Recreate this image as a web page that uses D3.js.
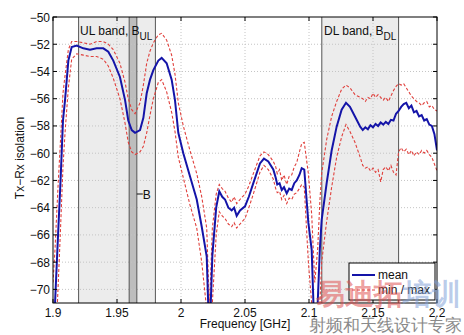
<!DOCTYPE html>
<html><head><meta charset="utf-8">
<script src="https://cdn.jsdelivr.net/npm/d3@7"></script>
<style>
body{margin:0;background:#fff;}
text{font-family:"Liberation Sans",Arial,Helvetica,sans-serif;}
</style></head>
<body><svg id="c" width="464" height="335"></svg>
<script>
// ---- data ----
const xTicks = [1.9, 1.95, 2, 2.05, 2.1, 2.15, 2.2];
const yTicks = [-70, -68, -66, -64, -62, -60, -58, -56, -54, -52, -50];
const ulBand = [1.92, 1.98];
const bStrip = [1.9595, 1.9655];
const dlBand = [2.11, 2.17];

const freq = [1.9000,1.9016,1.9039,1.9059,1.9078,1.9094,1.9120,1.9146,1.9185,1.9237,1.9289,1.9341,1.9393,1.9432,1.9471,1.9523,1.9563,1.9588,1.9615,1.9641,1.9680,1.9706,1.9732,1.9758,1.9784,1.9823,1.9849,1.9888,1.9927,1.9953,1.9979,2.0018,2.0070,2.0123,2.0162,2.0201,2.0222,2.0245,2.0275,2.0299,2.0322,2.0344,2.0370,2.0396,2.0415,2.0435,2.0461,2.0500,2.0530,2.0565,2.0617,2.0648,2.0682,2.0721,2.0740,2.0752,2.0770,2.0787,2.0805,2.0826,2.0845,2.0865,2.0885,2.0904,2.0925,2.0943,2.0963,2.0995,2.1021,2.1045,2.1068,2.1085,2.1099,2.1138,2.1177,2.1216,2.1255,2.1289,2.1320,2.1359,
2.140,2.142,2.144,2.146,2.148,2.150,2.152,2.154,2.156,2.158,2.160,2.162,2.164,2.166,2.168,2.170,2.172,2.174,2.176,2.178,2.180,2.182,2.184,2.186,2.188,2.190,2.192,2.194,2.196,2.198,2.200];

const meanIso = [-74.4,-71.0,-66.1,-62.0,-57.6,-56.1,-53.2,-52.2,-52.1,-52.3,-52.4,-52.3,-52.3,-52.55,-53.2,-54.4,-56.1,-57.6,-58.3,-58.5,-58.3,-57.4,-55.6,-54.6,-53.9,-53.2,-53.0,-53.4,-54.6,-56.1,-58.5,-60.0,-61.7,-63.4,-65.4,-67.6,-74.0,-67.5,-64.0,-62.8,-63.2,-63.4,-64.0,-64.2,-64.0,-64.6,-64.2,-63.9,-63.2,-62.2,-60.75,-60.4,-60.6,-61.2,-61.8,-62.3,-62.2,-62.7,-62.5,-62.95,-62.6,-62.7,-62.2,-62.0,-61.6,-61.1,-61.2,-65.1,-67.1,-74.0,-71.0,-67.0,-64.9,-62.2,-59.8,-58.05,-56.8,-56.3,-56.6,-57.3,
-58.05,-58.3,-58.1,-58.25,-57.95,-58.1,-57.85,-58.0,-57.75,-57.9,-57.7,-57.85,-57.55,-57.6,-57.1,-56.9,-56.6,-56.4,-56.3,-56.7,-56.5,-57.0,-56.9,-57.3,-57.2,-57.6,-57.5,-57.9,-58.0,-58.6,-59.8];

const maxIso = [-69.5,-67.0,-62.5,-59.0,-55.6,-54.3,-52.4,-51.8,-51.8,-51.9,-52.0,-51.8,-51.8,-52.0,-52.4,-53.4,-54.8,-56.0,-56.8,-57.1,-56.3,-55.0,-53.4,-52.5,-51.9,-51.3,-51.2,-51.7,-52.8,-54.2,-56.3,-58.0,-59.8,-61.5,-63.2,-65.5,-71.5,-65.5,-63.0,-62.3,-62.6,-62.8,-63.3,-63.6,-63.2,-63.7,-63.4,-63.0,-62.4,-61.5,-60.2,-59.9,-60.1,-60.6,-61.0,-61.5,-61.2,-62.0,-61.6,-62.3,-61.7,-61.6,-61.0,-60.7,-59.9,-59.3,-59.2,-61.5,-64.5,-69.5,-67.0,-63.5,-61.5,-59.0,-57.3,-56.2,-55.3,-55.0,-55.2,-55.7,
-55.9,-56.0,-56.2,-55.9,-56.0,-55.6,-55.9,-55.7,-55.9,-56.1,-55.9,-56.2,-55.8,-55.4,-55.1,-54.9,-55.0,-54.9,-55.2,-55.5,-55.8,-56.0,-56.2,-56.3,-56.5,-56.3,-56.2,-56.6,-56.5,-56.8,-56.9];

const minIso = [-79.0,-75.0,-70.0,-65.5,-61.0,-58.5,-55.2,-53.1,-52.7,-52.8,-52.9,-52.9,-53.1,-53.6,-54.5,-56.0,-57.8,-59.2,-59.9,-60.1,-59.9,-59.5,-58.5,-57.2,-56.0,-54.8,-54.6,-55.5,-57.0,-58.4,-60.3,-61.8,-63.8,-65.5,-68.0,-71.5,-77.0,-71.0,-66.0,-64.3,-64.6,-64.8,-65.2,-65.4,-65.1,-65.5,-65.2,-64.8,-64.0,-63.0,-61.4,-60.9,-61.2,-61.9,-62.6,-62.9,-62.8,-63.4,-63.1,-63.7,-63.3,-63.4,-63.0,-62.9,-62.6,-62.3,-62.5,-68.0,-71.0,-77.0,-75.0,-71.0,-68.0,-65.0,-62.5,-60.3,-58.8,-57.9,-58.4,-59.2,
-60.3,-60.9,-61.1,-61.0,-61.3,-61.1,-61.4,-61.2,-62.1,-61.2,-61.0,-61.3,-60.9,-61.4,-61.6,-59.9,-59.6,-59.9,-59.7,-60.1,-59.8,-60.2,-59.9,-60.1,-59.8,-60.0,-59.8,-60.1,-60.3,-60.8,-61.3];

// ---- layout ----
const svg = d3.select("#c");
const L = 53, R = 437, T = 17, B = 303;
const x = d3.scaleLinear().domain([1.9, 2.2]).range([L, R]);
const y = d3.scaleLinear().domain([-71, -50]).range([B, T]);

svg.append("defs").append("clipPath").attr("id","clip")
  .append("rect").attr("x",L).attr("y",T).attr("width",R-L).attr("height",B-T);

// bands
const g = svg.append("g").attr("clip-path","url(#clip)");
[ulBand, dlBand].forEach(b => {
  g.append("rect").attr("x",x(b[0])).attr("y",T).attr("width",x(b[1])-x(b[0])).attr("height",B-T)
   .attr("fill","#ececec");
});
g.append("rect").attr("x",x(bStrip[0])).attr("y",T).attr("width",x(bStrip[1])-x(bStrip[0])).attr("height",B-T)
  .attr("fill","#bdbdbd");

// grid
xTicks.slice(1,-1).forEach(t => g.append("line").attr("x1",x(t)).attr("x2",x(t)).attr("y1",T).attr("y2",B)
  .attr("stroke","#c4c4c4").attr("stroke-width",1).attr("stroke-dasharray","1,2"));
yTicks.slice(0,-1).forEach(t => g.append("line").attr("x1",L).attr("x2",R).attr("y1",y(t)).attr("y2",y(t))
  .attr("stroke","#c4c4c4").attr("stroke-width",1).attr("stroke-dasharray","1,2"));

// band edges
[ulBand[0], ulBand[1], bStrip[0], bStrip[1], dlBand[0], dlBand[1]].forEach(v =>
  g.append("line").attr("x1",x(v)).attr("x2",x(v)).attr("y1",T).attr("y2",B)
   .attr("stroke","#555").attr("stroke-width",1));

// curves
const line = d3.line().x((d,i)=>x(freq[i])).y(d=>y(d));
g.append("path").datum(maxIso).attr("d",line).attr("fill","none")
  .attr("stroke","#e0403c").attr("stroke-width",1.1).attr("stroke-dasharray","3,2");
g.append("path").datum(minIso).attr("d",line).attr("fill","none")
  .attr("stroke","#e0403c").attr("stroke-width",1.1).attr("stroke-dasharray","3,2");
g.append("path").datum(meanIso).attr("d",line).attr("fill","none")
  .attr("stroke","#1414a8").attr("stroke-width",2);

// frame & ticks
svg.append("rect").attr("x",L).attr("y",T).attr("width",R-L).attr("height",B-T)
  .attr("fill","none").attr("stroke","#000").attr("stroke-width",1);
const tk = 4;
xTicks.forEach(t => {
  svg.append("line").attr("x1",x(t)).attr("x2",x(t)).attr("y1",B).attr("y2",B-tk).attr("stroke","#000");
  svg.append("line").attr("x1",x(t)).attr("x2",x(t)).attr("y1",T).attr("y2",T+tk).attr("stroke","#000");
  svg.append("text").attr("x",x(t)).attr("y",317).attr("text-anchor","middle")
    .attr("font-size",12).attr("fill","#111").text(d3.format("")(t));
});
yTicks.forEach(t => {
  svg.append("line").attr("x1",L).attr("x2",L+tk).attr("y1",y(t)).attr("y2",y(t)).attr("stroke","#000");
  svg.append("line").attr("x1",R).attr("x2",R-tk).attr("y1",y(t)).attr("y2",y(t)).attr("stroke","#000");
  svg.append("text").attr("x",50).attr("y",y(t)+4.5).attr("text-anchor","end")
    .attr("font-size",12).attr("fill","#111").text(d3.format("")(t));
});

// labels
svg.append("text").attr("x",245).attr("y",328).attr("text-anchor","middle")
  .attr("font-size",12).attr("fill","#111").text("Frequency [GHz]");
svg.append("text").attr("transform","translate(24,158) rotate(-90)").attr("text-anchor","middle")
  .attr("font-size",12).attr("fill","#111").text("Tx\u2212Rx isolation");

const ul = svg.append("text").attr("x",80).attr("y",35).attr("font-size",12).attr("fill","#111");
ul.append("tspan").text("UL band, B");
ul.append("tspan").attr("dy",5).attr("font-size",10).text("UL");
const dl = svg.append("text").attr("x",324).attr("y",35).attr("font-size",12).attr("fill","#111");
dl.append("tspan").text("DL band, B");
dl.append("tspan").attr("dy",5).attr("font-size",10).text("DL");

svg.append("line").attr("x1",x(bStrip[1])).attr("x2",x(bStrip[1])+6).attr("y1",194).attr("y2",194).attr("stroke","#111");
svg.append("text").attr("x",x(bStrip[1])+6).attr("y",198.5).attr("font-size",12).attr("fill","#111").text("B");

// legend
const lg = svg.append("g");
lg.append("rect").attr("x",349).attr("y",263).attr("width",86).attr("height",37)
  .attr("fill","#fff").attr("stroke","#000").attr("stroke-width",1);
lg.append("line").attr("x1",352).attr("x2",375).attr("y1",275).attr("y2",275).attr("stroke","#1414a8").attr("stroke-width",2);
lg.append("text").attr("x",378).attr("y",279).attr("font-size",12).attr("fill","#111").text("mean");
lg.append("line").attr("x1",352).attr("x2",375).attr("y1",290).attr("y2",290).attr("stroke","#e0403c")
  .attr("stroke-width",1.1).attr("stroke-dasharray","3,2");
lg.append("text").attr("x",378).attr("y",294).attr("font-size",12).attr("fill","#111").text("min / max");

// watermark
const wm = svg.append("text").attr("x",316).attr("y",304).attr("font-size",29)
  .attr("font-family","Noto Sans CJK SC").attr("font-weight","bold");
wm.append("tspan").attr("fill","#e05050").attr("fill-opacity",0.55).text("易迪拓");
wm.append("tspan").attr("fill","#7fa0d8").attr("fill-opacity",0.55).text("培训");
svg.append("text").attr("x",309).attr("y",331).attr("font-size",16.5)
  .attr("font-family","Noto Sans CJK SC").attr("fill","#8a8a8a").text("射频和天线设计专家");
</script></body></html>
